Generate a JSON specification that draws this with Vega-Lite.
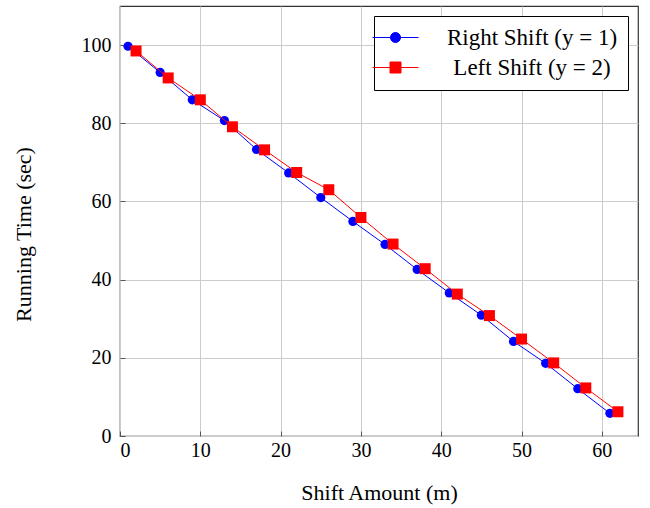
{
  "$schema": "https://vega.github.io/schema/vega-lite/v6.json",
  "width": 518,
  "height": 430,
  "autosize": "none",
  "padding": {"left": 120, "top": 6, "right": 12, "bottom": 72},
  "config": {
    "font": "Liberation Serif",
    "view": {"stroke": "#333333", "strokeWidth": 1.2},
    "axis": {
      "labelFont": "Liberation Serif",
      "titleFont": "Liberation Serif",
      "labelFontSize": 20,
      "titleFontSize": 22,
      "titleFontWeight": "normal",
      "labelColor": "black",
      "titleColor": "black",
      "gridColor": "#cccccc",
      "gridWidth": 1,
      "tickColor": "#555555",
      "tickSize": -5,
      "domain": false
    },
    "legend": {
      "labelFont": "Liberation Serif",
      "labelFontSize": 23,
      "labelColor": "black"
    }
  },
  "data": {
    "values": [
      {"m": 1, "t": 99.7, "s": "Right Shift (y = 1)"},
      {"m": 5, "t": 93.0, "s": "Right Shift (y = 1)"},
      {"m": 9, "t": 86.0, "s": "Right Shift (y = 1)"},
      {"m": 13, "t": 80.7, "s": "Right Shift (y = 1)"},
      {"m": 17, "t": 73.3, "s": "Right Shift (y = 1)"},
      {"m": 21, "t": 67.3, "s": "Right Shift (y = 1)"},
      {"m": 25, "t": 61.0, "s": "Right Shift (y = 1)"},
      {"m": 29, "t": 54.9, "s": "Right Shift (y = 1)"},
      {"m": 33, "t": 49.0, "s": "Right Shift (y = 1)"},
      {"m": 37, "t": 42.6, "s": "Right Shift (y = 1)"},
      {"m": 41, "t": 36.6, "s": "Right Shift (y = 1)"},
      {"m": 45, "t": 30.9, "s": "Right Shift (y = 1)"},
      {"m": 49, "t": 24.2, "s": "Right Shift (y = 1)"},
      {"m": 53, "t": 18.6, "s": "Right Shift (y = 1)"},
      {"m": 57, "t": 12.1, "s": "Right Shift (y = 1)"},
      {"m": 61, "t": 5.8, "s": "Right Shift (y = 1)"},
      {"m": 2, "t": 98.5, "s": "Left Shift (y = 2)"},
      {"m": 6, "t": 91.6, "s": "Left Shift (y = 2)"},
      {"m": 10, "t": 86.0, "s": "Left Shift (y = 2)"},
      {"m": 14, "t": 79.1, "s": "Left Shift (y = 2)"},
      {"m": 18, "t": 73.2, "s": "Left Shift (y = 2)"},
      {"m": 22, "t": 67.4, "s": "Left Shift (y = 2)"},
      {"m": 26, "t": 63.0, "s": "Left Shift (y = 2)"},
      {"m": 30, "t": 55.9, "s": "Left Shift (y = 2)"},
      {"m": 34, "t": 49.1, "s": "Left Shift (y = 2)"},
      {"m": 38, "t": 42.8, "s": "Left Shift (y = 2)"},
      {"m": 42, "t": 36.3, "s": "Left Shift (y = 2)"},
      {"m": 46, "t": 30.8, "s": "Left Shift (y = 2)"},
      {"m": 50, "t": 24.8, "s": "Left Shift (y = 2)"},
      {"m": 54, "t": 18.7, "s": "Left Shift (y = 2)"},
      {"m": 58, "t": 12.3, "s": "Left Shift (y = 2)"},
      {"m": 62, "t": 6.2, "s": "Left Shift (y = 2)"}
    ]
  },
  "encoding": {
    "x": {
      "field": "m",
      "type": "quantitative",
      "scale": {"domain": [0, 64.5], "nice": false, "zero": false},
      "axis": {
        "values": [0, 10, 20, 30, 40, 50, 60],
        "title": "Shift Amount (m)",
        "labelPadding": 9,
        "titlePadding": 22
      }
    },
    "y": {
      "field": "t",
      "type": "quantitative",
      "scale": {"domain": [0, 110], "nice": false},
      "axis": {
        "values": [0, 20, 40, 60, 80, 100],
        "title": "Running Time (sec)",
        "labelPadding": 14,
        "titlePadding": 46,
        "titleY": 228
      }
    },
    "color": {
      "field": "s",
      "type": "nominal",
      "scale": {
        "domain": ["Right Shift (y = 1)", "Left Shift (y = 2)"],
        "range": ["#0000ff", "#ff0000"]
      },
      "legend": {
        "title": null,
        "orient": "top-right",
        "offset": 10,
        "padding": 10,
        "fillColor": "white",
        "strokeColor": "black",
        "symbolSize": 400,
        "symbolStrokeWidth": 1,
        "labelAlign": "center",
        "labelOffset": 125,
        "labelLimit": 400,
        "rowPadding": 6,
        "encode": {
          "symbols": {
            "update": {
              "shape": {"signal": "datum.value === 'Right Shift (y = 1)' ? 'M-2.3,0H2.3M-0.5,0A0.5,0.5,0,1,1,0.5,0A0.5,0.5,0,1,1,-0.5,0Z' : 'M-2.3,0H2.3M-0.55,-0.55H0.55V0.55H-0.55Z'"},
              "fill": {"signal": "datum.value === 'Right Shift (y = 1)' ? '#0000ff' : '#ff0000'"},
              "stroke": {"signal": "datum.value === 'Right Shift (y = 1)' ? '#0000ff' : '#ff0000'"},
              "strokeWidth": {"value": 1},
              "opacity": {"value": 1},
              "fillOpacity": {"value": 1}
            }
          }
        }
      }
    }
  },
  "layer": [
    {
      "transform": [{"filter": "datum.s === 'Right Shift (y = 1)'"}],
      "mark": {"type": "line", "strokeWidth": 1}
    },
    {
      "transform": [{"filter": "datum.s === 'Right Shift (y = 1)'"}],
      "mark": {"type": "point", "shape": "circle", "filled": true, "size": 85, "opacity": 1}
    },
    {
      "transform": [{"filter": "datum.s === 'Left Shift (y = 2)'"}],
      "mark": {"type": "line", "strokeWidth": 1}
    },
    {
      "transform": [{"filter": "datum.s === 'Left Shift (y = 2)'"}],
      "mark": {"type": "point", "shape": "square", "filled": true, "size": 121, "opacity": 1}
    }
  ]
}
